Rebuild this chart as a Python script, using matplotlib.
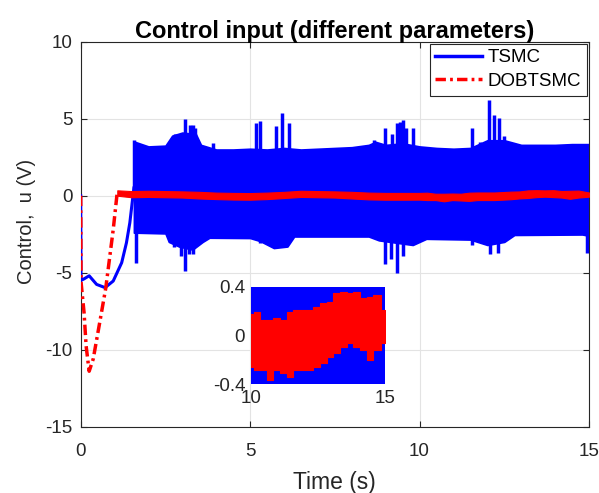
import numpy as np
import matplotlib
matplotlib.use("Agg")
import matplotlib.pyplot as plt
from matplotlib.lines import Line2D

plt.rcParams['font.family'] = ['Liberation Sans', 'DejaVu Sans']
plt.rcParams['axes.unicode_minus'] = False

BLUE = '#0000ff'
RED = '#ff0000'
DASHDOT = (3, 1.2, 0.8, 1.2)

# TSMC transient before the chattering starts
tsmc_t = [0, 0.01, 0.1, 0.25, 0.47, 0.72, 0.96, 1.21, 1.35, 1.45, 1.53, 1.57]
tsmc_u = [0, -5.5, -5.4, -5.2, -5.76, -5.97, -5.54, -4.35, -3.06, -1.76, -0.25, 0.5]

# TSMC chattering band (upper / lower envelope)
band_t_up = [1.57, 1.6, 2.0, 2.5, 2.7, 3.0, 3.4, 3.55, 4.0, 4.5, 5.0, 5.5, 6.0, 6.5, 7.0,
             7.5, 8.0, 8.5, 8.7, 9.0, 9.5, 10.0, 10.5, 11.0, 11.5, 12.0, 12.5, 13.0,
             13.5, 14.0, 14.5, 15.0]
band_up = [3.5, 3.5, 3.2, 3.25, 3.9, 4.1, 4.0, 3.3, 3.0, 3.0, 3.05, 3.0, 3.1, 3.0, 3.05,
           3.1, 3.15, 3.3, 3.5, 3.3, 3.4, 3.2, 3.1, 3.05, 3.1, 3.6, 3.6, 3.3,
           3.3, 3.3, 3.35, 3.35]
band_t_lo = [1.57, 1.6, 2.5, 2.6, 2.9, 3.3, 3.6, 3.8, 5.0, 5.3, 5.7, 6.1, 6.3, 8.5, 8.8,
             9.8, 10.2, 11.5, 12.0, 12.5, 12.8, 14.8, 15.0]
band_lo = [-2.4, -2.4, -2.45, -3.0, -3.3, -3.5, -3.0, -2.73, -2.75, -2.95, -3.4, -3.3,
           -2.65, -2.65, -2.9, -3.2, -2.8, -2.85, -3.2, -3.0, -2.55, -2.52, -2.6]

# isolated TSMC peaks
peak_up_t = [1.58, 2.78, 3.07, 3.22, 3.3, 3.37, 3.9, 5.18, 5.3, 5.77, 5.95, 6.15, 8.67,
             8.99, 9.2, 9.33, 9.42, 9.5, 9.6, 9.82, 11.56, 11.79, 12.06, 12.2, 12.33, 12.5]
peak_up_u = [3.6, 4.0, 5.0, 4.6, 4.6, 4.4, 3.4, 4.7, 4.85, 4.5, 5.36, 4.7, 3.6,
             4.4, 4.0, 4.7, 4.8, 4.93, 4.4, 4.4, 4.4, 3.5, 6.2, 5.25, 5.05, 3.9]
peak_dn_t = [1.62, 2.75, 2.95, 3.07, 3.2, 3.3, 5.3, 8.99, 9.15, 9.34, 9.5, 11.56,
             12.08, 12.3, 14.95]
peak_dn_u = [-4.35, -3.3, -3.9, -4.9, -3.8, -3.8, -3.1, -4.46, -4.1, -5.0, -3.9, -3.2,
             -3.8, -3.7, -3.7]

# DOBTSMC transient
dob_t = [0, 0.01, 0.1, 0.16, 0.25, 0.37, 0.54, 0.74, 0.96, 1.08]
dob_u = [0, -5.6, -7.6, -9.75, -11.4, -10.6, -8.5, -6.0, -2.2, 0.25]

# DOBTSMC steady-state noise band
dob_band_t = [1.08, 1.5, 2.0, 2.5, 3.0, 3.5, 4.0, 4.5, 5.0, 5.5, 6.0, 6.5, 7.0, 7.5, 8.0,
              8.5, 9.0, 9.5, 10.0, 10.22, 10.47, 10.72, 10.97, 11.22, 11.46, 11.71,
              11.96, 12.21, 12.46, 12.7, 12.95, 13.2, 13.45, 13.7, 13.95, 14.19, 14.44,
              14.69, 15.0]
dob_hi = [0.35, 0.3, 0.32, 0.3, 0.28, 0.25, 0.2, 0.18, 0.17, 0.2, 0.25, 0.32, 0.3, 0.28,
          0.25, 0.2, 0.18, 0.18, 0.18, 0.195, 0.127, 0.127, 0.14, 0.127, 0.195, 0.209,
          0.209, 0.209, 0.236, 0.263, 0.277, 0.345, 0.359, 0.345, 0.359, 0.304, 0.318,
          0.332, 0.209]
dob_lo = [0.0, -0.1, -0.08, -0.1, -0.12, -0.18, -0.22, -0.25, -0.26, -0.22, -0.15, -0.08,
          -0.1, -0.12, -0.18, -0.24, -0.26, -0.26, -0.256, -0.283, -0.283, -0.365,
          -0.283, -0.31, -0.338, -0.283, -0.283, -0.283, -0.256, -0.228, -0.174, -0.146,
          -0.092, -0.064, -0.092, -0.119, -0.201, -0.119, -0.064]


def draw_tsmc(ax):
    t_all = np.union1d(band_t_up, band_t_lo)
    up = np.interp(t_all, band_t_up, band_up)
    lo = np.interp(t_all, band_t_lo, band_lo)
    ax.fill_between(t_all, lo, up, color=BLUE, lw=1.2, zorder=2)
    ax.vlines(peak_up_t, 0, peak_up_u, color=BLUE, lw=2.5, zorder=2)
    ax.vlines(peak_dn_t, 0, peak_dn_u, color=BLUE, lw=2.5, zorder=2)
    ax.plot(tsmc_t, tsmc_u, color=BLUE, lw=2.2, zorder=3)


def draw_dob(ax, step=None):
    ax.fill_between(dob_band_t, dob_lo, dob_hi, color=RED, lw=0.8, step=step, zorder=4)
    ax.plot(dob_t, dob_u, color=RED, lw=2.5, ls='-.', dashes=DASHDOT, zorder=5)


fig = plt.figure(figsize=(5.99, 4.93), dpi=100)
ax = fig.add_axes([0.1347, 0.1345, 0.8486, 0.7809])
draw_tsmc(ax)
draw_dob(ax)

ax.grid(True, color='#e3e3e3', lw=0.8)
ax.set_axisbelow(True)
for s in ax.spines.values():
    s.set_color('#262626')
    s.set_linewidth(0.8)
ax.tick_params(direction='in', top=True, right=True, length=4,
               color='#262626', labelcolor='#262626', labelsize=13.5)
ax.tick_params(axis='x', pad=12)
ax.tick_params(axis='y', pad=6)
ax.set_xlim(0, 15)
ax.set_ylim(-15, 10)
ax.set_xticks([0, 5, 10, 15])
ax.set_yticks([-15, -10, -5, 0, 5, 10])
ax.set_xlabel('Time (s)', fontsize=16.5, color='#262626', labelpad=8)
ax.set_ylabel('Control,  u (V)', fontsize=14.5, color='#262626')
ax.yaxis.set_label_coords(-0.088, 0.534)
ax.set_title('Control input (different parameters)', fontsize=17,
             fontweight='bold', pad=3)

handles = [Line2D([], [], color=BLUE, lw=2.5),
           Line2D([], [], color=RED, lw=2.5, ls='-.', dashes=DASHDOT)]
leg = ax.legend(handles, ['TSMC', 'DOBTSMC'], loc='upper right', fontsize=13.5,
                fancybox=False, framealpha=1, edgecolor='#262626',
                borderaxespad=0.1, handlelength=2.5, handletextpad=0.3,
                borderpad=0.3, labelspacing=0.35)
leg.get_frame().set_linewidth(0.8)

# zoomed view of the last five seconds
axin = fig.add_axes([0.4185, 0.2205, 0.2242, 0.198])
draw_tsmc(axin)
draw_dob(axin, step='mid')
axin.set_xlim(10, 15)
axin.set_ylim(-0.4, 0.4)
axin.set_xticks([10, 15])
axin.set_yticks([-0.4, 0, 0.4])
axin.set_yticklabels(['-0.4', '0', '0.4'])
for s in axin.spines.values():
    s.set_visible(False)
axin.tick_params(length=0, labelsize=13.5, labelcolor='#262626', pad=4)

fig.savefig('out.png', dpi=100)
